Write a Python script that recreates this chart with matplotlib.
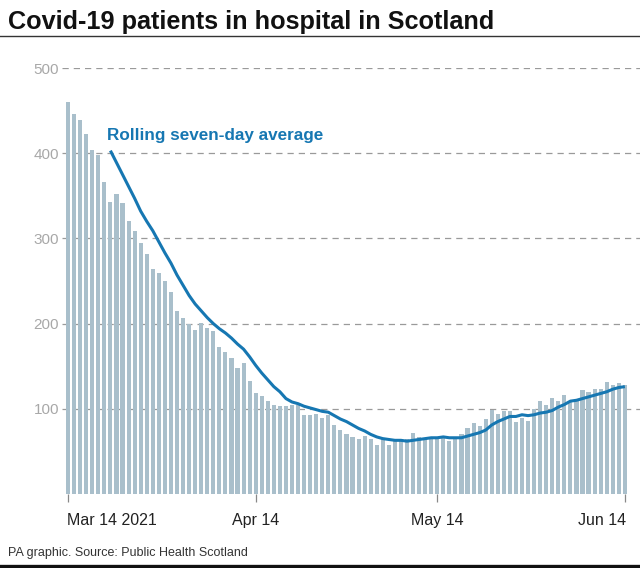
import matplotlib
matplotlib.use("Agg")
import matplotlib.pyplot as plt
import matplotlib.transforms as mtransforms
from matplotlib.lines import Line2D
import pandas as pd

# ---- data ----
start_date = "2021-03-14"
end_date = "2021-06-14"

patients = [460, 446, 439, 422, 404, 398, 366, 343, 352, 341,
            320, 309, 295, 282, 264, 259, 250, 237, 215, 207,
            200, 193, 201, 195, 191, 173, 167, 160, 148, 154,
            133, 119, 115, 109, 105, 103, 103, 105, 104, 93,
            93, 94, 89, 93, 81, 75, 70, 67, 65, 68,
            65, 58, 64, 58, 64, 62, 64, 72, 67, 66,
            64, 67, 67, 62, 66, 70, 78, 83, 80, 88,
            99, 94, 97, 98, 84, 89, 86, 100, 109, 105,
            113, 109, 116, 109, 110, 122, 120, 123, 123, 132,
            128, 130, 128]

# rolling seven-day average (starts Mar 21)
avg_start = "2021-03-21"
rolling_avg = [403, 389, 375, 361, 347, 332, 320, 309, 296, 283,
               271, 257, 245, 233, 223, 215, 207, 200, 194, 189,
               183, 176, 170, 161, 151, 142, 134, 126, 120, 112,
               108, 106, 103, 101, 99, 97, 96, 92, 88, 85,
               81, 77, 74, 70, 67, 65, 64, 63, 63, 62,
               63, 64, 65, 66, 66, 67, 66, 66, 66, 68,
               70, 72, 75, 81, 85, 88, 91, 91, 93, 92,
               93, 95, 96, 98, 102, 105, 109, 110, 112, 114,
               116, 118, 120, 123, 125, 126]

tick_dates = ["2021-03-14", "2021-04-14", "2021-05-14", "2021-06-14"]
tick_labels = ["Mar 14 2021", "Apr 14", "May 14", "Jun 14"]
y_ticks = [100, 200, 300, 400, 500]

title = "Covid-19 patients in hospital in Scotland"
line_label = "Rolling seven-day average"
source = "PA graphic. Source: Public Health Scotland"

# ---- style ----
BAR_C = "#a9bfcb"
LINE_C = "#1677b2"
FONT = ["Liberation Sans", "DejaVu Sans"]
plt.rcParams["font.family"] = FONT

days = pd.date_range(start_date, end_date, freq="D")
avg_days = pd.date_range(avg_start, periods=len(rolling_avg), freq="D")

W, H = 640, 568
fig = plt.figure(figsize=(W / 100, H / 100), dpi=100)
fig.patch.set_facecolor("white")

ax_left, ax_bottom = 62 / W, (H - 494) / H
ax = fig.add_axes([ax_left, ax_bottom, 1 - ax_left, (494 - 68) / H])

ax.bar(days, patients, width=0.68, color=BAR_C, zorder=2, linewidth=0)
ax.plot(avg_days, rolling_avg, color=LINE_C, lw=2.2, zorder=3,
        solid_capstyle="butt", solid_joinstyle="round")

x0 = pd.Timestamp(start_date)
ax.set_xlim(x0 - pd.Timedelta(days=1.0), x0 + pd.Timedelta(days=94.5))
ax.set_ylim(0, 500)

for v in y_ticks:
    ax.axhline(v, color="#9a9a9a", lw=0.9, ls=(0, (5, 4)), zorder=1)

ax.set_yticks(y_ticks)
ax.set_yticklabels([str(v) for v in y_ticks], fontsize=11, color="#a8a8a8")
ax.tick_params(axis="y", length=0, pad=2)

ax.set_xticks(pd.to_datetime(tick_dates))
ax.set_xticklabels(tick_labels, fontsize=11.5, color="#222222")
ax.tick_params(axis="x", length=6, width=0.9, color="#888888", pad=8)
xl = ax.get_xticklabels()
xl[0].set_horizontalalignment("left")
xl[-1].set_horizontalalignment("right")
off_l = mtransforms.ScaledTranslation(-1 / 72, 0, fig.dpi_scale_trans)
off_r = mtransforms.ScaledTranslation(1 / 72, 0, fig.dpi_scale_trans)
xl[0].set_transform(xl[0].get_transform() + off_l)
xl[-1].set_transform(xl[-1].get_transform() + off_r)

for s in ax.spines.values():
    s.set_visible(False)
ax.set_facecolor("none")

ax.text(x0 + pd.Timedelta(days=6.4), 421, line_label, color=LINE_C,
        fontsize=12.3, fontweight="bold", ha="left", va="center")

fig.text(8 / W, 1 - 29 / H, title, fontsize=18.2, fontweight="bold",
         color="#111111", ha="left", va="baseline")
fig.add_artist(Line2D([0, 1], [1 - 36 / H, 1 - 36 / H], color="#333333",
                      lw=1.0, transform=fig.transFigure))
fig.text(8 / W, 1 - 556 / H, source, fontsize=9, color="#333333",
         ha="left", va="baseline")
fig.add_artist(Line2D([0, 1], [1 - 565.5 / H, 1 - 565.5 / H], color="#111111",
                      lw=2.4, transform=fig.transFigure))

fig.savefig("out.png", dpi=100, facecolor="white")
